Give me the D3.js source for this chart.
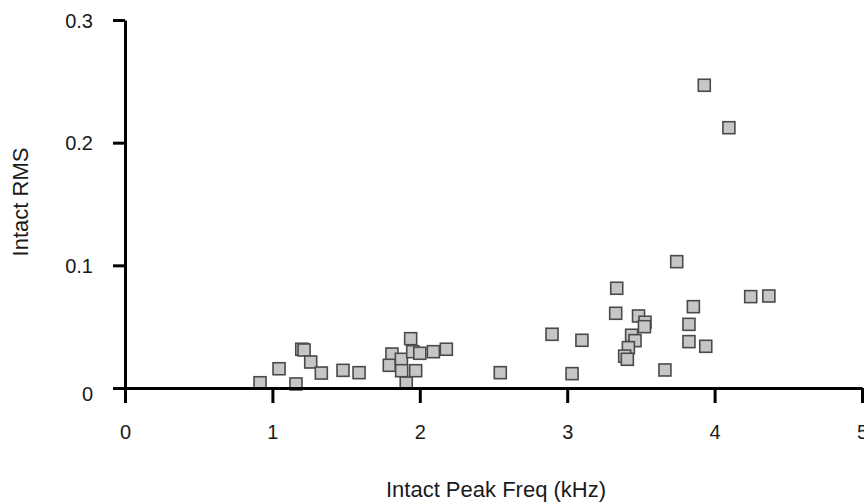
<!DOCTYPE html>
<html>
<head>
<meta charset="utf-8">
<script src="https://cdn.jsdelivr.net/npm/d3@7"></script>
<style>
  html, body { margin: 0; padding: 0; background: #fff; }
  svg { display: block; }
  text { font-family: "Liberation Sans", Arial, Helvetica, sans-serif; fill: #1a1a1a; }
</style>
</head>
<body>
<svg id="chart" width="864" height="503"></svg>
<script>
// Data: intact peak frequency (kHz) vs intact RMS
const peakFreq = [0.916, 1.045, 1.199, 1.215, 1.16, 1.26, 1.332, 1.479, 1.588, 1.811,
  1.793, 1.875, 1.938, 1.952, 2.0, 1.877, 1.972, 1.908, 2.092, 2.18,
  2.546, 2.897, 3.033, 3.1, 3.336, 3.329, 3.484, 3.528, 3.524, 3.437,
  3.46, 3.415, 3.39, 3.408, 3.663, 3.743, 3.856, 3.826, 3.826, 3.94,
  3.93, 4.097, 4.245, 4.368];
const rmsValues = [0.0043, 0.0157, 0.0316, 0.031, 0.0033, 0.0212, 0.0122, 0.0144, 0.0125, 0.0277,
  0.0185, 0.0234, 0.0402, 0.0296, 0.0283, 0.0141, 0.0141, 0.004, 0.0296, 0.0316,
  0.0125, 0.0438, 0.0117, 0.0389, 0.0813, 0.0609, 0.0587, 0.0536, 0.050, 0.043,
  0.0386, 0.0329, 0.026, 0.0234, 0.0147, 0.103, 0.0663, 0.0519, 0.0378, 0.034,
  0.2468, 0.2122, 0.0745, 0.075];
const xTicks = [0, 1, 2, 3, 4, 5];
const yTicks = [0, 0.1, 0.2, 0.3];
const yTickLabels = ["0", "0.1", "0.2", "0.3"];
const xTitle = "Intact Peak Freq (kHz)";
const yTitle = "Intact RMS";

const svg = d3.select("#chart");
const x = d3.scaleLinear().domain([0, 5]).range([125, 862]);
const y = d3.scaleLinear().domain([0, 0.3]).range([388, 20]);

// Points
const side = 12;
svg.append("g").selectAll("rect")
  .data(peakFreq.map((f, i) => ({ f, r: rmsValues[i] })))
  .join("rect")
  .attr("x", d => x(d.f) - side / 2)
  .attr("y", d => y(d.r) - side / 2)
  .attr("width", side)
  .attr("height", side)
  .attr("fill", "#c6c6c6")
  .attr("stroke", "#4a4a4a")
  .attr("stroke-width", 1.6);

// X axis
const xAxis = svg.append("g")
  .attr("transform", `translate(0,${y(0)})`)
  .call(d3.axisBottom(x).tickValues(xTicks).tickFormat(d3.format("d"))
    .tickSize(15).tickSizeOuter(0).tickPadding(22));
xAxis.select(".domain").attr("stroke", "#000").attr("stroke-width", 3);
xAxis.selectAll(".tick line").attr("stroke", "#000").attr("stroke-width", 3);
xAxis.selectAll(".tick text").attr("font-size", 20)
  .style("font-family", '"Liberation Sans", Arial, sans-serif').attr("fill", "#1a1a1a");

// Y axis
const yAxis = svg.append("g")
  .attr("transform", `translate(${x(0)},0)`)
  .call(d3.axisLeft(y).tickValues(yTicks).tickFormat((d, i) => yTickLabels[i])
    .tickSize(12).tickSizeOuter(0).tickPadding(20));
yAxis.select(".domain").attr("stroke", "#000").attr("stroke-width", 3);
yAxis.selectAll(".tick line").attr("stroke", "#000").attr("stroke-width", 3);
yAxis.selectAll(".tick text").attr("font-size", 20)
  .style("font-family", '"Liberation Sans", Arial, sans-serif').attr("fill", "#1a1a1a")
  .attr("dy", d => d === 0 ? "0.62em" : "0.35em");

// Titles
svg.append("text")
  .attr("x", 496).attr("y", 497)
  .attr("text-anchor", "middle")
  .attr("font-size", 22)
  .text(xTitle);

svg.append("text")
  .attr("transform", "translate(28,202) rotate(-90)")
  .attr("text-anchor", "middle")
  .attr("font-size", 22)
  .text(yTitle);
</script>
</body>
</html>
